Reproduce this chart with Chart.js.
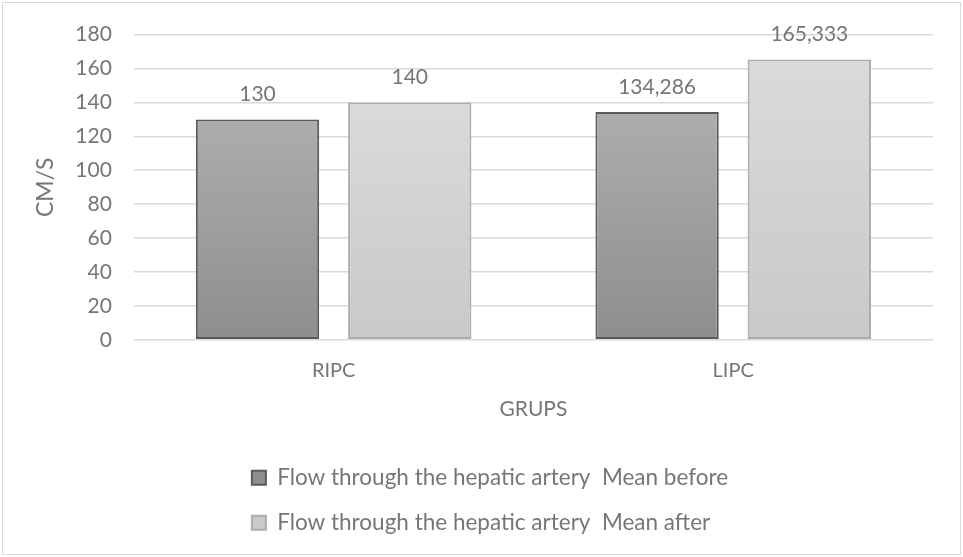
<!DOCTYPE html>
<html>
<head>
<meta charset="utf-8">
<script src="https://cdn.jsdelivr.net/npm/chart.js@4/dist/chart.umd.min.js"></script>
<style>
  html, body { margin: 0; padding: 0; background: #ffffff; }
  #wrap { width: 963px; height: 557px; position: relative; }
</style>
</head>
<body>
<div id="wrap"><canvas id="c" width="963" height="557"></canvas></div>
<script>
const categories = ["RIPC", "LIPC"];
const seriesNames = [
  "Flow through the hepatic artery  Mean before",
  "Flow through the hepatic artery  Mean after"
];
const meanBefore = [130, 134.286];
const meanAfter = [140, 165.333];
const valueLabelsBefore = ["130", "134,286"];
const valueLabelsAfter = ["140", "165,333"];
const yTicks = [0, 20, 40, 60, 80, 100, 120, 140, 160, 180];
const yTitle = "CM/S";
const xTitle = "GRUPS";

const FONT = "Lato";
const TEXT = "#767676";

function gradientFill(top, bottom, fallback) {
  return function (ctx) {
    const chart = ctx.chart;
    if (!chart.chartArea || ctx.type !== 'data') return fallback;
    const ys = chart.scales.y;
    const y0 = ys.getPixelForValue(ctx.raw);
    const y1 = ys.getPixelForValue(0);
    const g = chart.ctx.createLinearGradient(0, y0, 0, y1);
    g.addColorStop(0, top);
    g.addColorStop(1, bottom);
    return g;
  };
}

const framePlugin = {
  id: 'frame',
  beforeDraw(chart) {
    const c = chart.ctx;
    c.save();
    c.fillStyle = '#ffffff';
    c.fillRect(0, 0, chart.width, chart.height);
    c.strokeStyle = '#d9d9d9';
    c.lineWidth = 1;
    c.strokeRect(2.5, 2.5, chart.width - 5, chart.height - 5);
    c.restore();
    const lg = chart.legend;
    if (lg && lg.lineWidths && lg.lineWidths.length) {
      const m = Math.max.apply(null, lg.lineWidths);
      lg.lineWidths = lg.lineWidths.map(() => m - 26);
    }
  }
};

const valueLabelPlugin = {
  id: 'valueLabels',
  afterDatasetsDraw(chart) {
    const c = chart.ctx;
    c.save();
    c.font = "21px " + FONT;
    c.fillStyle = TEXT;
    c.textAlign = 'center';
    c.textBaseline = 'middle';
    chart.data.datasets.forEach((ds, di) => {
      const meta = chart.getDatasetMeta(di);
      meta.data.forEach((el, i) => {
        c.fillText(ds.valueLabels[i], el.x, el.y - 25);
      });
    });
    c.restore();
  }
};

new Chart(document.getElementById('c'), {
  type: 'bar',
  data: {
    labels: categories,
    datasets: [
      {
        label: seriesNames[0],
        data: meanBefore,
        valueLabels: valueLabelsBefore,
        backgroundColor: gradientFill('#adadad', '#8e8e8e', '#9d9d9d'),
        borderColor: '#5a5a5a',
        borderWidth: 2,
        borderSkipped: false,
        categoryPercentage: 0.762,
        barPercentage: 0.81
      },
      {
        label: seriesNames[1],
        data: meanAfter,
        valueLabels: valueLabelsAfter,
        backgroundColor: gradientFill('#dadada', '#c9c9c9', '#d2d2d2'),
        borderColor: '#adadad',
        borderWidth: 2,
        borderSkipped: false,
        categoryPercentage: 0.762,
        barPercentage: 0.81
      }
    ]
  },
  options: {
    responsive: false,
    animation: false,
    devicePixelRatio: 1,
    layout: { padding: { left: 21, right: 30, top: 32, bottom: 13 } },
    plugins: {
      legend: {
        display: true,
        position: 'bottom',
        labels: {
          boxWidth: 14,
          boxHeight: 14,
          padding: 22.5,
          color: TEXT,
          font: { family: FONT, size: 22.5 }
        }
      },
      tooltip: { enabled: false }
    },
    scales: {
      x: {
        grid: { display: false, drawTicks: false },
        border: { display: false },
        ticks: { color: TEXT, padding: 19, font: { family: FONT, size: 20 } },
        title: {
          display: true,
          text: xTitle,
          color: TEXT,
          font: { family: FONT, size: 21 },
          padding: { top: -5.6, bottom: 22.6 }
        }
      },
      y: {
        min: 0,
        max: 180,
        afterBuildTicks(scale) { scale.ticks = yTicks.map(v => ({ value: v })); },
        grid: { color: '#d9d9d9', lineWidth: 1.5, drawTicks: false },
        border: { display: false },
        ticks: { color: TEXT, padding: 22, font: { family: FONT, size: 21 } },
        title: {
          display: true,
          text: yTitle,
          color: TEXT,
          font: { family: FONT, size: 23 },
          padding: { top: 11.2, bottom: -6.5 }
        }
      }
    }
  },
  plugins: [framePlugin, valueLabelPlugin]
});
</script>
</body>
</html>
